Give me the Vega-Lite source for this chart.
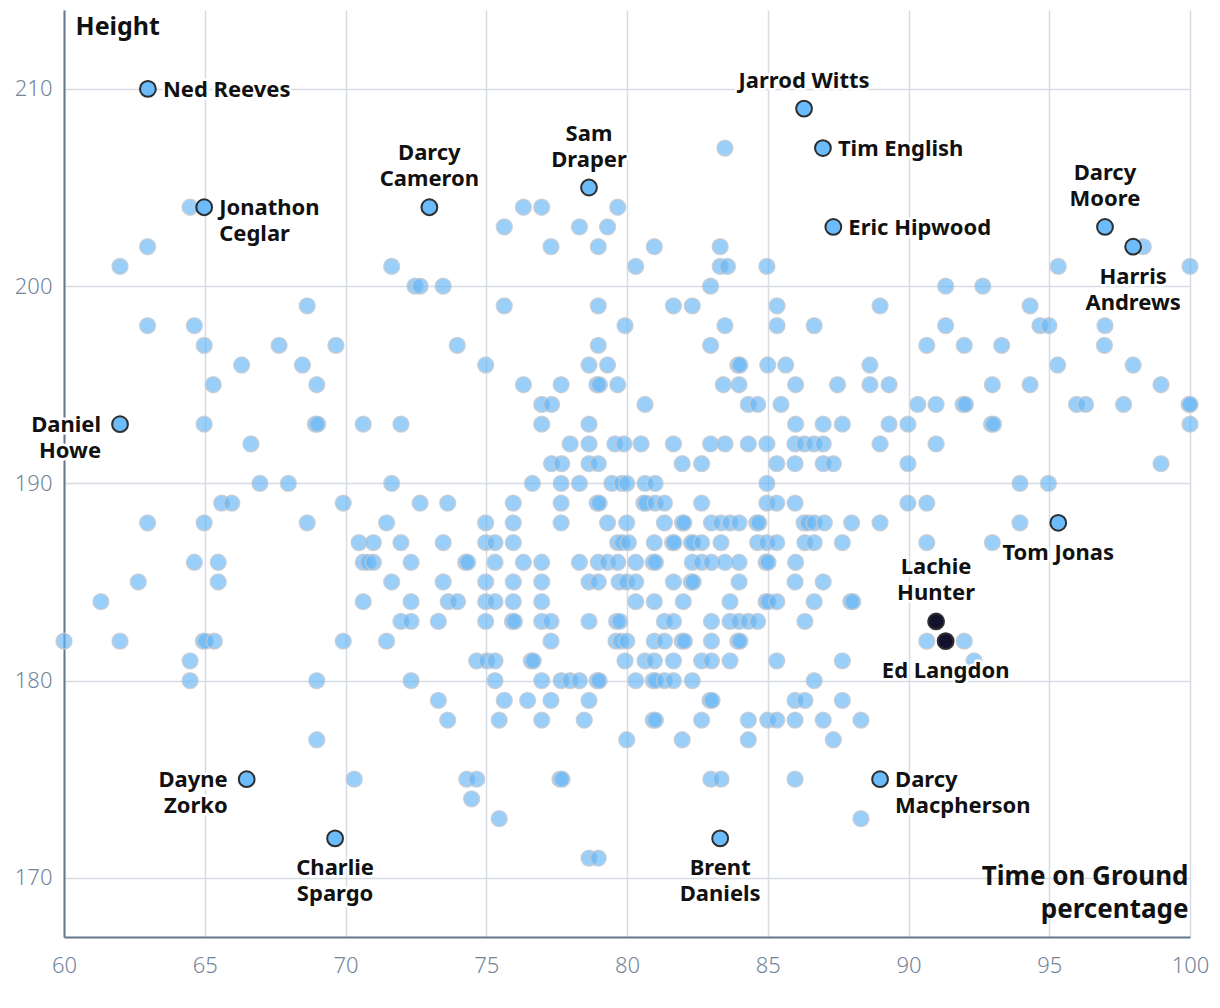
{
  "$schema": "https://vega.github.io/schema/vega-lite/v6.json",
  "width": 1126,
  "height": 927,
  "autosize": "none",
  "padding": {"left": 64, "top": 10, "right": 30, "bottom": 71},
  "background": "white",
  "config": {"view": {"stroke": null}, "font": "Noto Sans"},
  "data": {"values": [
    {"t":62.98,"h":210,"name":"Ned Reeves"},
    {"t":86.29,"h":209,"name":"Jarrod Witts"},
    {"t":83.48,"h":207},{"t":86.96,"h":207,"name":"Tim English"},
    {"t":78.65,"h":205,"name":"Sam\nDraper"},
    {"t":64.48,"h":204},{"t":64.98,"h":204,"name":"Jonathon\nCeglar"},{"t":72.98,"h":204,"name":"Darcy\nCameron"},{"t":76.32,"h":204},{"t":76.97,"h":204},{"t":79.67,"h":204},
    {"t":75.64,"h":203},{"t":78.31,"h":203},{"t":79.31,"h":203},{"t":87.33,"h":203,"name":"Eric Hipwood"},{"t":96.98,"h":203,"name":"Darcy\nMoore"},
    {"t":62.97,"h":202},{"t":77.30,"h":202},{"t":78.98,"h":202},{"t":80.97,"h":202},{"t":83.31,"h":202},{"t":98.34,"h":202},{"t":97.98,"h":202,"name":"Harris\nAndrews"},
    {"t":61.99,"h":201},{"t":71.64,"h":201},{"t":80.31,"h":201},{"t":83.31,"h":201},{"t":83.57,"h":201},{"t":84.97,"h":201},{"t":95.32,"h":201},{"t":100,"h":201},
    {"t":72.47,"h":200},{"t":72.65,"h":200},{"t":73.47,"h":200},{"t":82.97,"h":200},{"t":91.32,"h":200},{"t":92.64,"h":200},
    {"t":68.64,"h":199},{"t":75.64,"h":199},{"t":78.98,"h":199},{"t":81.65,"h":199},{"t":82.32,"h":199},{"t":85.33,"h":199},{"t":88.99,"h":199},{"t":94.32,"h":199},
    {"t":62.97,"h":198},{"t":64.63,"h":198},{"t":79.93,"h":198},{"t":83.48,"h":198},{"t":85.33,"h":198},{"t":86.65,"h":198},{"t":91.32,"h":198},{"t":94.67,"h":198},{"t":94.99,"h":198},{"t":96.98,"h":198},
    {"t":64.98,"h":197},{"t":67.64,"h":197},{"t":69.66,"h":197},{"t":73.97,"h":197},{"t":78.98,"h":197},{"t":82.97,"h":197},{"t":90.65,"h":197},{"t":91.98,"h":197},{"t":93.31,"h":197},{"t":96.96,"h":197},
    {"t":66.31,"h":196},{"t":68.47,"h":196},{"t":74.98,"h":196},{"t":78.65,"h":196},{"t":79.31,"h":196},{"t":83.94,"h":196},{"t":84.01,"h":196},{"t":85.00,"h":196},{"t":85.64,"h":196},{"t":88.63,"h":196},{"t":95.30,"h":196},{"t":97.98,"h":196},
    {"t":65.30,"h":195},{"t":68.98,"h":195},{"t":76.32,"h":195},{"t":77.66,"h":195},{"t":78.93,"h":195},{"t":79.02,"h":195},{"t":79.67,"h":195},{"t":83.42,"h":195},{"t":83.98,"h":195},{"t":85.99,"h":195},{"t":87.48,"h":195},{"t":88.63,"h":195},{"t":89.31,"h":195},{"t":92.98,"h":195},{"t":94.32,"h":195},{"t":98.97,"h":195},
    {"t":76.97,"h":194},{"t":77.32,"h":194},{"t":80.64,"h":194},{"t":84.31,"h":194},{"t":84.64,"h":194},{"t":85.47,"h":194},{"t":90.33,"h":194},{"t":90.98,"h":194},{"t":91.94,"h":194},{"t":92.02,"h":194},{"t":95.97,"h":194},{"t":96.29,"h":194},{"t":97.64,"h":194},{"t":99.97,"h":194},{"t":100,"h":194},
    {"t":61.99,"h":193,"name":"Daniel\nHowe"},{"t":64.98,"h":193},{"t":68.93,"h":193},{"t":69.01,"h":193},{"t":70.63,"h":193},{"t":71.97,"h":193},{"t":76.97,"h":193},{"t":78.65,"h":193},{"t":85.99,"h":193},{"t":86.97,"h":193},{"t":87.65,"h":193},{"t":89.31,"h":193},{"t":89.98,"h":193},{"t":92.95,"h":193},{"t":93.02,"h":193},{"t":100,"h":193},
    {"t":66.64,"h":192},{"t":77.98,"h":192},{"t":78.65,"h":192},{"t":79.57,"h":192},{"t":79.89,"h":192},{"t":80.50,"h":192},{"t":81.65,"h":192},{"t":82.97,"h":192},{"t":83.48,"h":192},{"t":84.31,"h":192},{"t":84.97,"h":192},{"t":85.97,"h":192},{"t":86.30,"h":192},{"t":86.64,"h":192},{"t":86.97,"h":192},{"t":88.99,"h":192},{"t":90.98,"h":192},
    {"t":77.32,"h":191},{"t":77.68,"h":191},{"t":78.65,"h":191},{"t":78.98,"h":191},{"t":81.96,"h":191},{"t":82.65,"h":191},{"t":85.32,"h":191},{"t":85.97,"h":191},{"t":86.97,"h":191},{"t":87.33,"h":191},{"t":89.98,"h":191},{"t":98.97,"h":191},
    {"t":66.96,"h":190},{"t":67.97,"h":190},{"t":71.64,"h":190},{"t":76.64,"h":190},{"t":77.66,"h":190},{"t":78.31,"h":190},{"t":79.46,"h":190},{"t":79.81,"h":190},{"t":79.99,"h":190},{"t":80.64,"h":190},{"t":81.00,"h":190},{"t":84.97,"h":190},{"t":93.96,"h":190},{"t":94.97,"h":190},
    {"t":65.60,"h":189},{"t":65.96,"h":189},{"t":69.92,"h":189},{"t":72.65,"h":189},{"t":73.63,"h":189},{"t":75.96,"h":189},{"t":77.66,"h":189},{"t":78.94,"h":189},{"t":79.01,"h":189},{"t":80.60,"h":189},{"t":80.67,"h":189},{"t":81.00,"h":189},{"t":81.33,"h":189},{"t":82.65,"h":189},{"t":84.97,"h":189},{"t":85.32,"h":189},{"t":85.97,"h":189},{"t":89.98,"h":189},{"t":90.65,"h":189},
    {"t":62.97,"h":188},{"t":64.98,"h":188},{"t":68.64,"h":188},{"t":71.46,"h":188},{"t":74.98,"h":188},{"t":75.96,"h":188},{"t":77.66,"h":188},{"t":79.31,"h":188},{"t":79.99,"h":188},{"t":81.33,"h":188},{"t":81.97,"h":188},{"t":82.02,"h":188},{"t":83.00,"h":188},{"t":83.34,"h":188},{"t":83.66,"h":188},{"t":83.98,"h":188},{"t":84.61,"h":188},{"t":84.68,"h":188},{"t":86.29,"h":188},{"t":86.43,"h":188},{"t":86.65,"h":188},{"t":87.01,"h":188},{"t":87.98,"h":188},{"t":88.99,"h":188},{"t":93.96,"h":188},{"t":95.32,"h":188,"name":"Tom Jonas"},
    {"t":70.48,"h":187},{"t":70.99,"h":187},{"t":71.97,"h":187},{"t":73.47,"h":187},{"t":74.98,"h":187},{"t":75.31,"h":187},{"t":75.96,"h":187},{"t":79.67,"h":187},{"t":79.83,"h":187},{"t":80.05,"h":187},{"t":80.97,"h":187},{"t":81.62,"h":187},{"t":81.67,"h":187},{"t":82.29,"h":187},{"t":82.34,"h":187},{"t":82.65,"h":187},{"t":83.34,"h":187},{"t":84.64,"h":187},{"t":84.97,"h":187},{"t":85.32,"h":187},{"t":86.32,"h":187},{"t":86.65,"h":187},{"t":87.65,"h":187},{"t":90.65,"h":187},{"t":92.98,"h":187},
    {"t":64.63,"h":186},{"t":65.48,"h":186},{"t":70.63,"h":186},{"t":70.80,"h":186},{"t":70.99,"h":186},{"t":72.33,"h":186},{"t":74.27,"h":186},{"t":74.34,"h":186},{"t":75.31,"h":186},{"t":76.32,"h":186},{"t":76.97,"h":186},{"t":78.31,"h":186},{"t":78.98,"h":186},{"t":79.31,"h":186},{"t":79.67,"h":186},{"t":80.31,"h":186},{"t":80.93,"h":186},{"t":81.01,"h":186},{"t":82.32,"h":186},{"t":82.65,"h":186},{"t":83.00,"h":186},{"t":83.48,"h":186},{"t":83.98,"h":186},{"t":84.94,"h":186},{"t":85.01,"h":186},{"t":85.99,"h":186},
    {"t":62.64,"h":185},{"t":65.48,"h":185},{"t":71.64,"h":185},{"t":73.47,"h":185},{"t":74.98,"h":185},{"t":75.96,"h":185},{"t":76.97,"h":185},{"t":78.65,"h":185},{"t":78.98,"h":185},{"t":79.72,"h":185},{"t":79.99,"h":185},{"t":80.31,"h":185},{"t":81.65,"h":185},{"t":82.28,"h":185},{"t":82.35,"h":185},{"t":83.98,"h":185},{"t":85.97,"h":185},{"t":86.97,"h":185},
    {"t":61.31,"h":184},{"t":70.63,"h":184},{"t":72.33,"h":184},{"t":73.65,"h":184},{"t":73.98,"h":184},{"t":74.98,"h":184},{"t":75.31,"h":184},{"t":75.96,"h":184},{"t":76.97,"h":184},{"t":80.31,"h":184},{"t":80.97,"h":184},{"t":82.00,"h":184},{"t":83.66,"h":184},{"t":84.94,"h":184},{"t":85.01,"h":184},{"t":85.32,"h":184},{"t":86.65,"h":184},{"t":87.95,"h":184},{"t":88.02,"h":184},
    {"t":71.97,"h":183},{"t":72.33,"h":183},{"t":73.30,"h":183},{"t":74.98,"h":183},{"t":75.93,"h":183},{"t":76.00,"h":183},{"t":76.97,"h":183},{"t":77.30,"h":183},{"t":78.65,"h":183},{"t":79.63,"h":183},{"t":79.74,"h":183},{"t":81.33,"h":183},{"t":81.65,"h":183},{"t":83.00,"h":183},{"t":83.66,"h":183},{"t":83.98,"h":183},{"t":84.31,"h":183},{"t":84.64,"h":183},{"t":86.32,"h":183},{"t":90.98,"h":183,"name":"Lachie\nHunter"},
    {"t":60.0,"h":182},{"t":61.99,"h":182},{"t":64.95,"h":182},{"t":65.02,"h":182},{"t":65.34,"h":182},{"t":69.92,"h":182},{"t":71.46,"h":182},{"t":77.30,"h":182},{"t":79.61,"h":182},{"t":79.77,"h":182},{"t":79.99,"h":182},{"t":80.97,"h":182},{"t":81.33,"h":182},{"t":81.96,"h":182},{"t":82.04,"h":182},{"t":83.00,"h":182},{"t":83.94,"h":182},{"t":84.01,"h":182},{"t":90.65,"h":182},{"t":91.98,"h":182},{"t":91.32,"h":182,"name":"Ed Langdon"},
    {"t":64.48,"h":181},{"t":74.66,"h":181},{"t":75.02,"h":181},{"t":75.31,"h":181},{"t":76.60,"h":181},{"t":76.67,"h":181},{"t":79.93,"h":181},{"t":80.64,"h":181},{"t":80.97,"h":181},{"t":81.65,"h":181},{"t":82.65,"h":181},{"t":83.00,"h":181},{"t":83.66,"h":181},{"t":85.32,"h":181},{"t":87.65,"h":181},{"t":92.33,"h":181},
    {"t":64.48,"h":180},{"t":68.98,"h":180},{"t":72.33,"h":180},{"t":75.31,"h":180},{"t":76.97,"h":180},{"t":77.66,"h":180},{"t":77.98,"h":180},{"t":78.31,"h":180},{"t":78.94,"h":180},{"t":79.01,"h":180},{"t":80.31,"h":180},{"t":80.93,"h":180},{"t":81.01,"h":180},{"t":81.33,"h":180},{"t":81.65,"h":180},{"t":82.32,"h":180},{"t":86.65,"h":180},
    {"t":73.30,"h":179},{"t":75.64,"h":179},{"t":76.47,"h":179},{"t":77.30,"h":179},{"t":78.65,"h":179},{"t":82.95,"h":179},{"t":83.02,"h":179},{"t":85.97,"h":179},{"t":86.32,"h":179},{"t":87.65,"h":179},
    {"t":73.63,"h":178},{"t":75.46,"h":178},{"t":76.97,"h":178},{"t":78.48,"h":178},{"t":80.93,"h":178},{"t":81.01,"h":178},{"t":82.65,"h":178},{"t":84.31,"h":178},{"t":85.00,"h":178},{"t":85.32,"h":178},{"t":85.97,"h":178},{"t":86.97,"h":178},{"t":88.31,"h":178},
    {"t":68.98,"h":177},{"t":79.99,"h":177},{"t":81.96,"h":177},{"t":84.31,"h":177},{"t":87.33,"h":177},
    {"t":66.49,"h":175,"name":"Dayne\nZorko"},{"t":70.31,"h":175},{"t":74.31,"h":175},{"t":74.66,"h":175},{"t":77.62,"h":175},{"t":77.69,"h":175},{"t":82.98,"h":175},{"t":83.34,"h":175},{"t":85.97,"h":175},{"t":88.99,"h":175,"name":"Darcy\nMacpherson"},
    {"t":74.48,"h":174},
    {"t":75.46,"h":173},{"t":88.31,"h":173},
    {"t":69.63,"h":172,"name":"Charlie\nSpargo"},{"t":83.31,"h":172,"name":"Brent\nDaniels"},
    {"t":78.65,"h":171},{"t":78.98,"h":171}
  ]},
  "encoding": {
    "x": {"field": "t", "type": "quantitative",
      "scale": {"domain": [60, 100], "nice": false, "zero": false},
      "axis": {"values": [60,65,70,75,80,85,90,95,100], "grid": true, "gridColor": "#d6dbe4", "gridWidth": 1.5,
        "domain": true, "domainColor": "#66768c", "domainWidth": 2, "ticks": false,
        "labelFont": "Noto Sans", "labelFontSize": 22, "labelFontWeight": 300, "labelColor": "#74849a", "labelPadding": 18, "labelFlush": false,
        "title": ["Time on Ground", "percentage"], "titleFont": "Noto Sans", "titleFontSize": 26, "titleFontWeight": "bold", "titleColor": "#111111",
        "titleAlign": "right", "titleBaseline": "top", "titleX": 1124, "titleY": -74, "titleLineHeight": 33}},
    "y": {"field": "h", "type": "quantitative",
      "scale": {"domain": [167, 214], "nice": false, "zero": false},
      "axis": {"values": [170,180,190,200,210], "grid": true, "gridColor": "#d6dbe4", "gridWidth": 1.5,
        "domain": true, "domainColor": "#66768c", "domainWidth": 2, "ticks": false,
        "labelFont": "Noto Sans", "labelFontSize": 22, "labelFontWeight": 300, "labelColor": "#74849a", "labelPadding": 12,
        "title": "Height", "titleFont": "Noto Sans", "titleFontSize": 25, "titleFontWeight": "bold", "titleColor": "#111111",
        "titleAngle": 0, "titleAlign": "left", "titleBaseline": "top", "titleX": 11, "titleY": 4}}
  },
  "layer": [
    {"transform": [{"filter": "!datum.name"}],
     "mark": {"type": "circle", "size": 250, "fill": "#64b5f6", "fillOpacity": 0.65, "stroke": "#c3c9d2", "strokeOpacity": 0.8, "strokeWidth": 1.5}},
    {"transform": [{"filter": "datum.name && datum.name != 'Lachie\\nHunter' && datum.name != 'Ed Langdon'"}],
     "mark": {"type": "circle", "size": 250, "fill": "#6cbcfb", "fillOpacity": 1, "stroke": "#2e2e2e", "strokeWidth": 2}},
    {"transform": [{"filter": {"field": "name", "oneOf": ["Lachie\nHunter", "Ed Langdon"]}}],
     "mark": {"type": "circle", "size": 250, "fill": "#12122e", "fillOpacity": 1, "stroke": "#2e2e2e", "strokeWidth": 2}},

    {"transform": [{"filter": {"field": "name", "oneOf": ["Ned Reeves", "Tim English", "Eric Hipwood", "Jonathon\nCeglar", "Darcy\nMacpherson"]}}],
     "mark": {"type": "text", "align": "left", "baseline": "top", "dx": 15, "dy": -9, "fontSize": 22, "fontWeight": "bold", "lineHeight": 26, "lineBreak": "\n", "fill": "white", "stroke": "white", "strokeWidth": 5, "strokeJoin": "round"},
     "encoding": {"text": {"field": "name"}}},
    {"transform": [{"filter": {"field": "name", "oneOf": ["Ned Reeves", "Tim English", "Eric Hipwood", "Jonathon\nCeglar", "Darcy\nMacpherson"]}}],
     "mark": {"type": "text", "align": "left", "baseline": "top", "dx": 15, "dy": -9, "fontSize": 22, "fontWeight": "bold", "lineHeight": 26, "lineBreak": "\n", "fill": "#111111"},
     "encoding": {"text": {"field": "name"}}},

    {"transform": [{"filter": {"field": "name", "oneOf": ["Jarrod Witts"]}}],
     "mark": {"type": "text", "align": "center", "baseline": "bottom", "dy": -16, "fontSize": 22, "fontWeight": "bold", "lineHeight": 26, "lineBreak": "\n", "fill": "white", "stroke": "white", "strokeWidth": 5, "strokeJoin": "round"},
     "encoding": {"text": {"field": "name"}}},
    {"transform": [{"filter": {"field": "name", "oneOf": ["Jarrod Witts"]}}],
     "mark": {"type": "text", "align": "center", "baseline": "bottom", "dy": -16, "fontSize": 22, "fontWeight": "bold", "lineHeight": 26, "lineBreak": "\n", "fill": "#111111"},
     "encoding": {"text": {"field": "name"}}},

    {"transform": [{"filter": {"field": "name", "oneOf": ["Sam\nDraper", "Darcy\nCameron", "Darcy\nMoore", "Lachie\nHunter"]}}],
     "mark": {"type": "text", "align": "center", "baseline": "bottom", "dy": -42, "fontSize": 22, "fontWeight": "bold", "lineHeight": 26, "lineBreak": "\n", "fill": "white", "stroke": "white", "strokeWidth": 5, "strokeJoin": "round"},
     "encoding": {"text": {"field": "name"}}},
    {"transform": [{"filter": {"field": "name", "oneOf": ["Sam\nDraper", "Darcy\nCameron", "Darcy\nMoore", "Lachie\nHunter"]}}],
     "mark": {"type": "text", "align": "center", "baseline": "bottom", "dy": -42, "fontSize": 22, "fontWeight": "bold", "lineHeight": 26, "lineBreak": "\n", "fill": "#111111"},
     "encoding": {"text": {"field": "name"}}},

    {"transform": [{"filter": {"field": "name", "oneOf": ["Harris\nAndrews", "Tom Jonas", "Ed Langdon", "Charlie\nSpargo", "Brent\nDaniels"]}}],
     "mark": {"type": "text", "align": "center", "baseline": "top", "dy": 20, "fontSize": 22, "fontWeight": "bold", "lineHeight": 26, "lineBreak": "\n", "fill": "white", "stroke": "white", "strokeWidth": 5, "strokeJoin": "round"},
     "encoding": {"text": {"field": "name"}}},
    {"transform": [{"filter": {"field": "name", "oneOf": ["Harris\nAndrews", "Tom Jonas", "Ed Langdon", "Charlie\nSpargo", "Brent\nDaniels"]}}],
     "mark": {"type": "text", "align": "center", "baseline": "top", "dy": 20, "fontSize": 22, "fontWeight": "bold", "lineHeight": 26, "lineBreak": "\n", "fill": "#111111"},
     "encoding": {"text": {"field": "name"}}},

    {"transform": [{"filter": {"field": "name", "oneOf": ["Daniel\nHowe", "Dayne\nZorko"]}}],
     "mark": {"type": "text", "align": "right", "baseline": "top", "dx": -19, "dy": -9, "fontSize": 22, "fontWeight": "bold", "lineHeight": 26, "lineBreak": "\n", "fill": "white", "stroke": "white", "strokeWidth": 5, "strokeJoin": "round"},
     "encoding": {"text": {"field": "name"}}},
    {"transform": [{"filter": {"field": "name", "oneOf": ["Daniel\nHowe", "Dayne\nZorko"]}}],
     "mark": {"type": "text", "align": "right", "baseline": "top", "dx": -19, "dy": -9, "fontSize": 22, "fontWeight": "bold", "lineHeight": 26, "lineBreak": "\n", "fill": "#111111"},
     "encoding": {"text": {"field": "name"}}}
  ]
}
